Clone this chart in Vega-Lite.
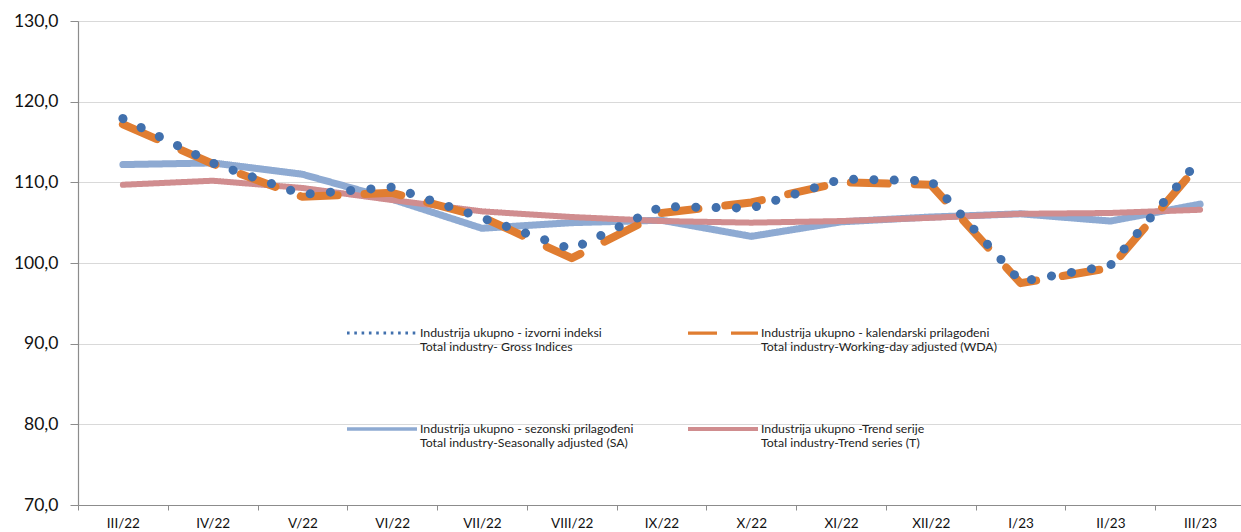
{
  "$schema": "https://vega.github.io/schema/vega-lite/v6.json",
  "width": 1167,
  "height": 484,
  "autosize": {"type": "none"},
  "padding": {"left": 78, "top": 21, "right": -4, "bottom": 27},
  "background": "white",
  "config": {
    "view": {"stroke": null},
    "font": "Lato",
    "legend": {
      "orient": "none",
      "direction": "horizontal",
      "legendX": 267,
      "legendY": 275,
      "columns": 2,
      "columnPadding": 46,
      "rowPadding": 38,
      "symbolType": "stroke",
      "symbolSize": 4900,
      "labelFont": "Lato",
      "labelFontSize": 12.3,
      "labelColor": "#222222",
      "labelOffset": 1,
      "labelLimit": 400
    }
  },
  "data": {
    "values": [
      {"month": "III/22", "series": "SA", "value": 112.2},
      {"month": "IV/22", "series": "SA", "value": 112.4},
      {"month": "V/22", "series": "SA", "value": 111.0},
      {"month": "VI/22", "series": "SA", "value": 107.9},
      {"month": "VII/22", "series": "SA", "value": 104.3},
      {"month": "VIII/22", "series": "SA", "value": 105.0},
      {"month": "IX/22", "series": "SA", "value": 105.3},
      {"month": "X/22", "series": "SA", "value": 103.3},
      {"month": "XI/22", "series": "SA", "value": 105.1},
      {"month": "XII/22", "series": "SA", "value": 105.7},
      {"month": "I/23", "series": "SA", "value": 106.1},
      {"month": "II/23", "series": "SA", "value": 105.2},
      {"month": "III/23", "series": "SA", "value": 107.3},
      {"month": "III/22", "series": "T", "value": 109.7},
      {"month": "IV/22", "series": "T", "value": 110.2},
      {"month": "V/22", "series": "T", "value": 109.3},
      {"month": "VI/22", "series": "T", "value": 107.8},
      {"month": "VII/22", "series": "T", "value": 106.4},
      {"month": "VIII/22", "series": "T", "value": 105.7},
      {"month": "IX/22", "series": "T", "value": 105.2},
      {"month": "X/22", "series": "T", "value": 105.0},
      {"month": "XI/22", "series": "T", "value": 105.2},
      {"month": "XII/22", "series": "T", "value": 105.6},
      {"month": "I/23", "series": "T", "value": 106.1},
      {"month": "II/23", "series": "T", "value": 106.2},
      {"month": "III/23", "series": "T", "value": 106.6},
      {"month": "III/22", "series": "WDA", "value": 117.2},
      {"month": "IV/22", "series": "WDA", "value": 112.3},
      {"month": "V/22", "series": "WDA", "value": 108.2},
      {"month": "VI/22", "series": "WDA", "value": 108.7},
      {"month": "VII/22", "series": "WDA", "value": 105.7},
      {"month": "VIII/22", "series": "WDA", "value": 100.6},
      {"month": "IX/22", "series": "WDA", "value": 106.2},
      {"month": "X/22", "series": "WDA", "value": 107.5},
      {"month": "XI/22", "series": "WDA", "value": 110.0},
      {"month": "XII/22", "series": "WDA", "value": 109.7},
      {"month": "I/23", "series": "WDA", "value": 97.5},
      {"month": "II/23", "series": "WDA", "value": 99.4},
      {"month": "III/23", "series": "WDA", "value": 112.4},
      {"month": "III/22", "series": "Gross", "value": 117.9},
      {"month": "IV/22", "series": "Gross", "value": 112.4},
      {"month": "V/22", "series": "Gross", "value": 108.5},
      {"month": "VI/22", "series": "Gross", "value": 109.4},
      {"month": "VII/22", "series": "Gross", "value": 105.6},
      {"month": "VIII/22", "series": "Gross", "value": 101.7},
      {"month": "IX/22", "series": "Gross", "value": 107.0},
      {"month": "X/22", "series": "Gross", "value": 106.8},
      {"month": "XI/22", "series": "Gross", "value": 110.4},
      {"month": "XII/22", "series": "Gross", "value": 110.2},
      {"month": "I/23", "series": "Gross", "value": 97.7},
      {"month": "II/23", "series": "Gross", "value": 99.7},
      {"month": "III/23", "series": "Gross", "value": 112.9}
    ]
  },
  "encoding": {
    "x": {
      "field": "month",
      "type": "ordinal",
      "sort": ["III/22", "IV/22", "V/22", "VI/22", "VII/22", "VIII/22", "IX/22", "X/22", "XI/22", "XII/22", "I/23", "II/23", "III/23"],
      "bandPosition": 0.5,
      "scale": {"type": "band", "paddingInner": 0, "paddingOuter": 0},
      "axis": {
        "title": null,
        "labelAngle": 0,
        "tickBand": "extent",
        "tickSize": 5,
        "tickColor": "#8c8c8c",
        "domainColor": "#8c8c8c",
        "domainWidth": 1.2,
        "labelFont": "Lato",
        "labelFontSize": 13.5,
        "labelColor": "#111111",
        "labelPadding": 6,
        "grid": false
      }
    },
    "y": {
      "field": "value",
      "type": "quantitative",
      "scale": {"domain": [70, 130], "nice": false, "zero": false},
      "axis": {
        "title": null,
        "values": [70, 80, 90, 100, 110, 120, 130],
        "labelExpr": "replace(format(datum.value, '.1f'), '.', ',')",
        "tickSize": 8,
        "tickColor": "#8c8c8c",
        "domainColor": "#8c8c8c",
        "domainWidth": 1.2,
        "labelFont": "Lato",
        "labelFontSize": 17.5,
        "labelColor": "#111111",
        "labelPadding": 12,
        "grid": true,
        "gridColor": "#d9d9d9",
        "gridWidth": 1
      }
    }
  },
  "layer": [
    {
      "mark": {"type": "line", "strokeCap": "round", "strokeJoin": "round"},
      "encoding": {
        "color": {
          "field": "series",
          "type": "nominal",
          "scale": {
            "domain": ["Gross", "WDA", "SA", "T"],
            "range": ["#4170ad", "#e07d31", "#8eaad2", "#d08d8f"]
          },
          "legend": null
        },
        "strokeDash": {
          "field": "series",
          "type": "nominal",
          "scale": {
            "domain": ["Gross", "WDA", "SA", "T"],
            "range": [[0.1, 20.2], [37, 27], [1, 0], [1, 0]]
          },
          "legend": null
        },
        "strokeWidth": {
          "field": "series",
          "type": "nominal",
          "scale": {
            "domain": ["Gross", "WDA", "SA", "T"],
            "range": [9, 6, 5, 5]
          },
          "legend": null
        }
      }
    },
    {
      "transform": [{"filter": "datum.value < 0"}],
      "mark": {"type": "line"},
      "encoding": {
        "color": {
          "field": "series",
          "type": "nominal",
          "scale": {
            "domain": ["Gross", "WDA", "SA", "T"],
            "range": ["#4170ad", "#e07d31", "#8eaad2", "#d08d8f"]
          },
          "legend": {
            "title": null,
            "labelExpr": "datum.label === 'Gross' ? ['Industrija ukupno - izvorni indeksi', 'Total industry- Gross Indices'] : datum.label === 'WDA' ? ['Industrija ukupno - kalendarski prilagođeni', 'Total industry-Working-day adjusted (WDA)'] : datum.label === 'SA' ? ['Industrija ukupno - sezonski prilagođeni', 'Total industry-Seasonally adjusted (SA)'] : ['Industrija ukupno -Trend serije', 'Total industry-Trend series (T)']"
          }
        },
        "strokeDash": {
          "field": "series",
          "type": "nominal",
          "scale": {
            "domain": ["Gross", "WDA", "SA", "T"],
            "range": [[2.6, 4.7], [29, 14], [1, 0], [1, 0]]
          },
          "legend": {
            "title": null,
            "labelExpr": "datum.label === 'Gross' ? ['Industrija ukupno - izvorni indeksi', 'Total industry- Gross Indices'] : datum.label === 'WDA' ? ['Industrija ukupno - kalendarski prilagođeni', 'Total industry-Working-day adjusted (WDA)'] : datum.label === 'SA' ? ['Industrija ukupno - sezonski prilagođeni', 'Total industry-Seasonally adjusted (SA)'] : ['Industrija ukupno -Trend serije', 'Total industry-Trend series (T)']"
          }
        },
        "strokeWidth": {
          "field": "series",
          "type": "nominal",
          "scale": {
            "domain": ["Gross", "WDA", "SA", "T"],
            "range": [3, 4, 4, 4]
          },
          "legend": {
            "title": null,
            "labelExpr": "datum.label === 'Gross' ? ['Industrija ukupno - izvorni indeksi', 'Total industry- Gross Indices'] : datum.label === 'WDA' ? ['Industrija ukupno - kalendarski prilagođeni', 'Total industry-Working-day adjusted (WDA)'] : datum.label === 'SA' ? ['Industrija ukupno - sezonski prilagođeni', 'Total industry-Seasonally adjusted (SA)'] : ['Industrija ukupno -Trend serije', 'Total industry-Trend series (T)']"
          }
        }
      }
    }
  ],
  "resolve": {
    "scale": {"color": "independent", "strokeDash": "independent", "strokeWidth": "independent"}
  }
}
